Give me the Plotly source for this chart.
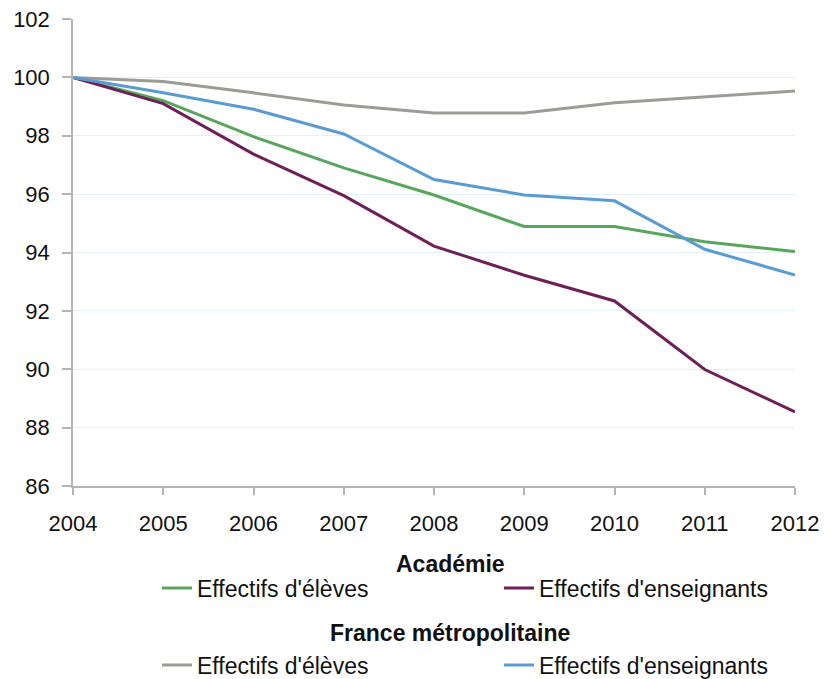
import plotly.graph_objects as go

years = [2004, 2005, 2006, 2007, 2008, 2009, 2010, 2011, 2012]
academie_eleves = [100, 99.2, 97.97, 96.9, 95.97, 94.89, 94.89, 94.37, 94.03]
academie_enseignants = [100, 99.1, 97.37, 95.95, 94.22, 93.22, 92.34, 89.99, 88.54]
france_eleves = [100, 99.86, 99.47, 99.05, 98.78, 98.78, 99.13, 99.33, 99.53]
france_enseignants = [100, 99.47, 98.91, 98.06, 96.5, 95.97, 95.77, 94.11, 93.23]

y_ticks = [86, 88, 90, 92, 94, 96, 98, 100, 102]
group_titles = ["Académie", "France métropolitaine"]

FONT = "Liberation Sans, Arial, sans-serif"
FS = 23
GREEN = "#58a55c"
PURPLE = "#6e1f58"
GREY = "#9c9c97"
BLUE = "#5b9bd3"
AXIS = "#b4b4b4"

fig = go.Figure()
fig.add_trace(go.Scatter(x=years, y=academie_eleves, mode="lines", name="Effectifs d'élèves",
                         line=dict(color=GREEN, width=3), legend="legend"))
fig.add_trace(go.Scatter(x=years, y=academie_enseignants, mode="lines", name="Effectifs d'enseignants",
                         line=dict(color=PURPLE, width=3), legend="legend"))
fig.add_trace(go.Scatter(x=years, y=france_eleves, mode="lines", name="Effectifs d'élèves",
                         line=dict(color=GREY, width=3), legend="legend2"))
fig.add_trace(go.Scatter(x=years, y=france_enseignants, mode="lines", name="Effectifs d'enseignants",
                         line=dict(color=BLUE, width=3), legend="legend2"))

W, H = 826, 673
legend_common = dict(
    orientation="h",
    xref="container", yref="container",
    xanchor="left", yanchor="middle",
    font=dict(family=FONT, size=FS, color="#111111"),
    entrywidth=297, entrywidthmode="pixels",
    bgcolor="rgba(0,0,0,0)",
    tracegroupgap=0,
)

fig.update_layout(
    width=W, height=H,
    margin=dict(l=65, r=39, t=11, b=195),
    paper_bgcolor="white", plot_bgcolor="white",
    font=dict(family=FONT, size=FS, color="#111111"),
    showlegend=True,
    legend=dict(**legend_common, x=149 / W, y=1 - 580 / H),
    legend2=dict(**legend_common, x=149 / W, y=1 - 657 / H),
    xaxis=dict(
        range=[2004, 2012], tickvals=years, ticktext=[str(y) for y in years],
        showgrid=False, zeroline=False, automargin=False,
        showline=True, linecolor=AXIS, linewidth=1.5,
        ticks="outside", ticklen=7, tickcolor=AXIS, tickwidth=1.5,
        ticklabelstandoff=10, ticklabeloverflow="allow",
        tickfont=dict(family=FONT, size=22, color="#111111"),
    ),
    yaxis=dict(
        range=[86, 102], tickvals=y_ticks,
        showgrid=True, gridcolor="#e2f0f7", gridwidth=1,
        zeroline=False, automargin=False,
        showline=True, linecolor=AXIS, linewidth=1.5,
        ticks="outside", ticklen=9, tickcolor=AXIS, tickwidth=1.5,
        ticklabelstandoff=8, ticklabeloverflow="allow",
        tickfont=dict(family=FONT, size=22, color="#111111"),
    ),
    annotations=[
        dict(text="<b>" + group_titles[0] + "</b>", xref="paper", yref="paper",
             x=(442 - 65) / 722, y=(479 - 557) / 467, xanchor="center", yanchor="middle",
             showarrow=False, font=dict(family=FONT, size=FS, color="#111111")),
        dict(text="<b>" + group_titles[1] + "</b>", xref="paper", yref="paper",
             x=(442 - 65) / 722, y=(479 - 626) / 467, xanchor="center", yanchor="middle",
             showarrow=False, font=dict(family=FONT, size=FS, color="#111111")),
    ],
)

fig.write_html("out.html")
